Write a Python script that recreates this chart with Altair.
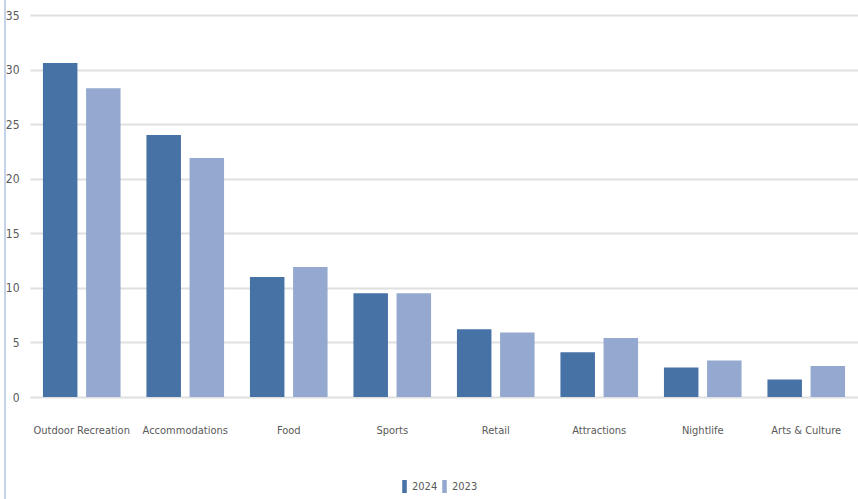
import altair as alt
import pandas as pd

categories = ["Outdoor Recreation", "Accommodations", "Food", "Sports", "Retail",
              "Attractions", "Nightlife", "Arts & Culture"]
years = ["2024", "2023"]
values_2024 = [30.6, 24.0, 11.0, 9.5, 6.2, 4.1, 2.7, 1.6]
values_2023 = [28.3, 21.9, 11.9, 9.5, 5.9, 5.4, 3.35, 2.85]
y_ticks = [0, 5, 10, 15, 20, 25, 30, 35]

rows = []
for c, a, b in zip(categories, values_2024, values_2023):
    rows.append({"category": c, "year": "2024", "value": a})
    rows.append({"category": c, "year": "2023", "value": b})
df = pd.DataFrame(rows)

FONT = "'Liberation Sans Narrow', 'DejaVu Sans Condensed', 'DejaVu Sans', sans-serif"
TXT = "#595959"

bars = alt.Chart(df).mark_bar().encode(
    x=alt.X("category:N", sort=categories, title=None,
            scale=alt.Scale(paddingInner=0.25, paddingOuter=0.125),
            axis=alt.Axis(labelAngle=0, labelPadding=27, ticks=False, domain=False,
                          labelFont=FONT, labelFontSize=11, labelColor=TXT, grid=False)),
    xOffset=alt.XOffset("year:N", sort=years, scale=alt.Scale(paddingInner=0.2)),
    y=alt.Y("value:Q", title=None,
            scale=alt.Scale(domain=[0, 35]),
            axis=alt.Axis(values=y_ticks, ticks=False, domain=False, labelPadding=11,
                          labelFont=FONT, labelFontSize=12, labelColor=TXT,
                          grid=True, gridColor="#e0e0e0", gridWidth=2)),
    color=alt.Color("year:N", sort=years, title=None,
                    scale=alt.Scale(domain=years, range=["#4672a6", "#95a9d0"]),
                    legend=alt.Legend(orient="none", legendX=368, legendY=465,
                                      direction="horizontal",
                                      symbolType="M-0.35,-1H0.35V1H-0.35Z",
                                      symbolSize=169, symbolStrokeWidth=0,
                                      labelFont=FONT, labelFontSize=11, labelColor=TXT,
                                      columnPadding=0, labelOffset=1)),
)

edge = alt.Chart(pd.DataFrame({"v": [0]})).mark_rule(color="#c5d3ea", strokeWidth=2).encode(
    x=alt.value(-25), y=alt.value(-15), y2=alt.value(484)
)

chart = alt.layer(edge, bars).properties(
    width=828, height=382,
    autosize=alt.AutoSizeParams(type="none"),
    padding={"left": 30, "top": 15, "right": 0, "bottom": 102},
    background="white",
).configure_view(stroke=None)

chart.save("out.html", embed_options={"renderer": "svg", "actions": False})
